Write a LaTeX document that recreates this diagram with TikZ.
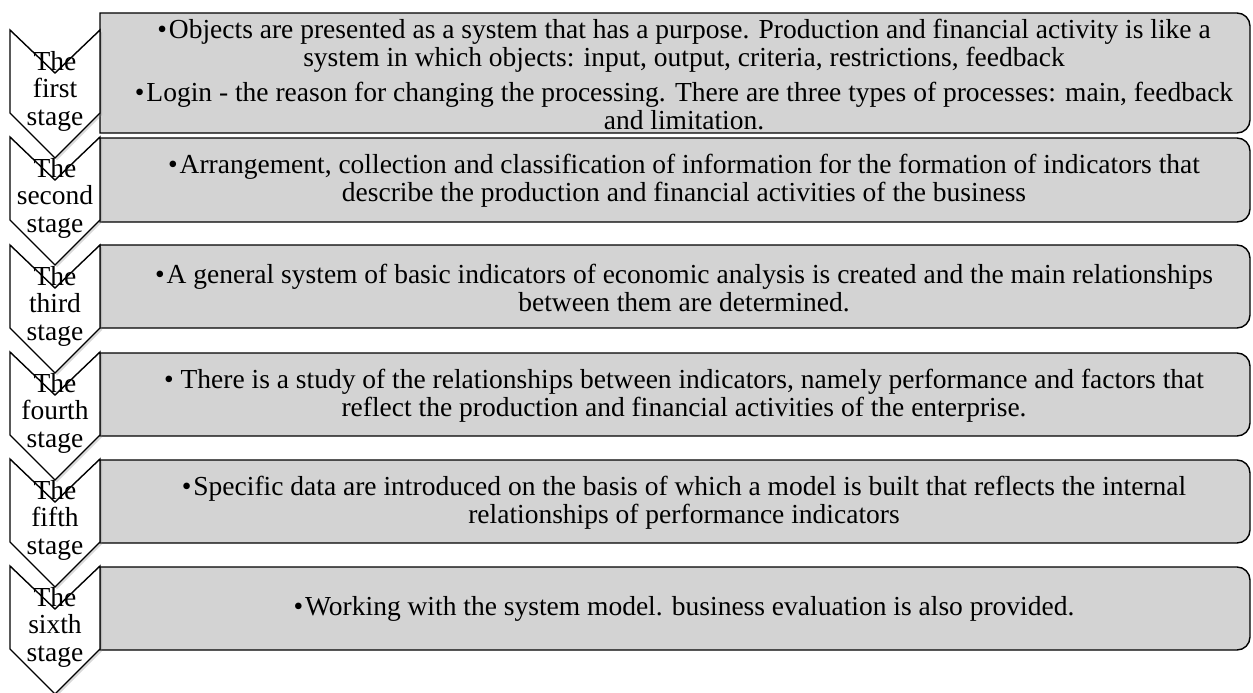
\documentclass[tikz,border=0pt]{standalone}
\usepackage{fontspec}
\setmainfont{Liberation Serif}
\usetikzlibrary{shadows}
\definecolor{boxgray}{RGB}{211,211,211}
\newcommand\blt{•\kern2pt}
\begin{document}
\begin{tikzpicture}[x=1pt,y=-1pt,
  chev/.style={draw=black, line width=1.4pt, fill=white, line join=miter,
    drop shadow={shadow xshift=2pt, shadow yshift=-2pt, opacity=0.3}},
  panel/.style={draw=black, line width=1.4pt, fill=boxgray},
  chevtext/.style={align=center, font=\fontsize{27.5}{27.5}\selectfont, inner sep=0pt},
  paneltext/.style={align=center, font=\fontsize{27.5}{28}\selectfont, inner sep=0pt}]
\useasboundingbox (0,0) rectangle (1253,693);
% panels
\foreach \a/\b in {13/133,138/222,245/328,353/436,460/543,567/650}{
  \path[panel] (100,\a) -- (1237,\a) arc[start angle=-90,end angle=0,radius=13]
    -- (1250,\b-13) arc[start angle=0,end angle=90,radius=13] -- (100,\b) -- cycle;
}
% chevrons
\foreach \t in {30,137,245,352,459,566}{
  \path[chev] (10,\t) -- (55,\t+43) -- (100,\t) -- (100,\t+83) -- (55,\t+128) -- (10,\t+83) -- cycle;
}
% chevron labels
\node[chevtext] (s1) at (55,91) {The\\first\\stage};
\node[chevtext] (s2) at (55,198) {The\\second\\stage};
\node[chevtext] (s3) at (55,306) {The\\third\\stage};
\node[chevtext] (s4) at (55,413) {The\\fourth\\stage};
\node[chevtext] (s5) at (55,520) {The\\fifth\\stage};
\node[chevtext] (s6) at (55,627) {The\\sixth\\stage};
% panel texts
\node[paneltext] (t1) at (684,74.5) {\blt Objects are presented as a system that has a purpose. Production and financial activity is like a\\system in which objects: input, output, criteria, restrictions, feedback\\[7pt]\blt Login - the reason for changing the processing. There are three types of processes: main, feedback\\and limitation.};
\node[paneltext] (t2) at (684,181) {\blt Arrangement, collection and classification of information for the formation of indicators that\\describe the production and financial activities of the business};
\node[paneltext] (t3) at (684,288) {\blt A general system of basic indicators of economic analysis is created and the main relationships\\between them are determined.};
\node[paneltext] (t4) at (684,396) {• There is a study of the relationships between indicators, namely performance and factors that\\reflect the production and financial activities of the enterprise.};
\node[paneltext] (t5) at (684,503) {\blt Specific data are introduced on the basis of which a model is built that reflects the internal\\relationships of performance indicators};
\node[paneltext] (t6) at (684,609) {\blt Working with the system model. business evaluation is also provided.};
\end{tikzpicture}
\end{document}
